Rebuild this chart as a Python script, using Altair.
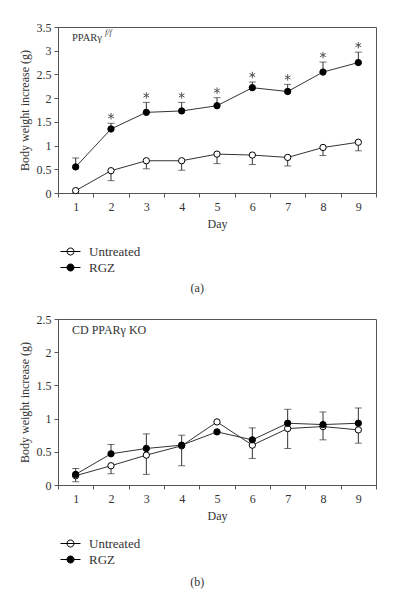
import altair as alt
import pandas as pd

days = [1, 2, 3, 4, 5, 6, 7, 8, 9]
series_names = ["Untreated", "RGZ"]

# Panel (a) PPARγ f/f
a_untreated = [0.05, 0.47, 0.68, 0.68, 0.82, 0.80, 0.75, 0.96, 1.07]
a_untreated_lo = [0.00, 0.26, 0.51, 0.48, 0.62, 0.60, 0.57, 0.79, 0.89]
a_untreated_hi = [0.05, 0.47, 0.68, 0.68, 0.82, 0.80, 0.75, 0.96, 1.07]
a_rgz = [0.55, 1.35, 1.70, 1.73, 1.84, 2.22, 2.14, 2.55, 2.75]
a_rgz_lo = [0.55, 1.35, 1.70, 1.73, 1.84, 2.22, 2.14, 2.55, 2.75]
a_rgz_hi = [0.74, 1.47, 1.91, 1.91, 2.01, 2.34, 2.29, 2.76, 2.97]
a_significant = [False, True, True, True, True, True, True, True, True]

# Panel (b) CD PPARγ KO
b_untreated = [0.14, 0.29, 0.45, 0.59, 0.95, 0.60, 0.85, 0.88, 0.83]
b_untreated_lo = [0.05, 0.17, 0.16, 0.29, 0.95, 0.40, 0.55, 0.68, 0.63]
b_untreated_hi = [0.14, 0.29, 0.77, 0.59, 0.95, 0.60, 0.85, 0.88, 0.83]
b_rgz = [0.16, 0.47, 0.55, 0.60, 0.80, 0.68, 0.93, 0.91, 0.93]
b_rgz_lo = [0.16, 0.47, 0.55, 0.60, 0.80, 0.68, 0.93, 0.91, 0.93]
b_rgz_hi = [0.25, 0.61, 0.55, 0.75, 0.80, 0.86, 1.14, 1.10, 1.16]

a_ticks = [0, 0.5, 1, 1.5, 2, 2.5, 3, 3.5]
b_ticks = [0, 0.5, 1, 1.5, 2, 2.5]

FONT = "Liberation Serif"
INK = "#333333"
SYMBOL = "M-2,0L2,0M-0.7,0A0.7,0.7,0,1,0,0.7,0A0.7,0.7,0,1,0,-0.7,0Z"
ASTERISK = "M0,-1L0,1M-0.87,-0.5L0.87,0.5M-0.87,0.5L0.87,-0.5"


def frames(u, ulo, uhi, r, rlo, rhi):
    rows, caps = [], []
    for name, v, lo, hi in [("Untreated", u, ulo, uhi), ("RGZ", r, rlo, rhi)]:
        for d, vv, l, h in zip(days, v, lo, hi):
            rows.append({"day": d, "series": name, "value": vv, "lo": l, "hi": h})
            if l < vv:
                caps.append({"day": d, "series": name, "cap": l})
            if h > vv:
                caps.append({"day": d, "series": name, "cap": h})
    return pd.DataFrame(rows), pd.DataFrame(caps)


def panel(df, caps, ymax, ticks, label_parts, label_size, sup_x, caption, cap_offset, stars=None):
    x = alt.X("day:O", scale=alt.Scale(type="band", paddingInner=0, paddingOuter=0),
              axis=alt.Axis(title="Day", labelAngle=0, tickBand="extent", tickSize=4,
                            labelPadding=4, titlePadding=6))
    yscale = alt.Scale(domain=[0, ymax], nice=False)
    yaxis = alt.Axis(title="Body weight increase (g)", values=ticks, format="~g",
                     labelOverlap=False, tickSize=4, labelPadding=3, titlePadding=5)

    def Y(field):
        return alt.Y(field, scale=yscale, axis=yaxis)

    base = alt.Chart(df)
    line = base.mark_line(color=INK, strokeWidth=1).encode(x=x, y=Y("value:Q"), detail="series:N")
    rule = base.mark_rule(color=INK, strokeWidth=1).encode(x=x, y=Y("lo:Q"), y2="hi:Q")
    cap = alt.Chart(caps).mark_tick(color=INK, orient="horizontal", size=7, thickness=1).encode(
        x=x, y=Y("cap:Q"))
    pts = base.mark_point(shape="circle", size=40, stroke="black", strokeWidth=1,
                          opacity=1, fillOpacity=1).encode(
        x=x, y=Y("value:Q"),
        fill=alt.Fill("series:N", scale=alt.Scale(domain=series_names, range=["white", "black"]),
                      legend=alt.Legend(title=None, orient="none", legendX=6, legendY=218,
                                        symbolType=SYMBOL, symbolSize=100,
                                        symbolStrokeColor="black", symbolStrokeWidth=1,
                                        labelFont=FONT, labelFontSize=13, labelColor=INK,
                                        labelOffset=12, rowPadding=2)))
    layers = [line, rule, cap, pts]
    if stars is not None:
        layers.append(alt.Chart(stars).mark_point(shape=ASTERISK, size=42, filled=False,
                                                  color="#555555", strokeWidth=1, opacity=1,
                                                  yOffset=-7).encode(x=x, y=Y("cap:Q")))
    main_text, sup_text = label_parts
    layers.append(alt.Chart(pd.DataFrame({"t": [main_text]})).mark_text(
        font=FONT, fontSize=label_size, color=INK, align="left", baseline="middle").encode(
        text="t:N", x=alt.value(14), y=alt.value(11)))
    if sup_text:
        layers.append(alt.Chart(pd.DataFrame({"t": [sup_text]})).mark_text(
            font=FONT, fontSize=8, fontStyle="italic", color=INK, align="left",
            baseline="middle").encode(text="t:N", x=alt.value(sup_x), y=alt.value(6)))
    return alt.layer(*layers).properties(
        width=318, height=166,
        title=alt.TitleParams(caption, orient="bottom", anchor="middle", frame="bounds",
                              font=FONT, fontSize=12, fontWeight="normal", color=INK,
                              offset=cap_offset))


dfa, capsa = frames(a_untreated, a_untreated_lo, a_untreated_hi, a_rgz, a_rgz_lo, a_rgz_hi)
stars_a = pd.DataFrame({"day": [d for d, s in zip(days, a_significant) if s],
                        "cap": [h for h, s in zip(a_rgz_hi, a_significant) if s]})
dfb, capsb = frames(b_untreated, b_untreated_lo, b_untreated_hi, b_rgz, b_rgz_lo, b_rgz_hi)

pa = panel(dfa, capsa, 3.5, a_ticks, ("PPARγ", "f/f"), 10.5, 47, "(a)", 8, stars_a)
pb = panel(dfb, capsb, 2.5, b_ticks, ("CD PPARγ KO", ""), 12, 0, "(b)", 10)

chart = alt.vconcat(pa, pb, spacing=126, bounds="flush").resolve_scale(
    fill="independent").resolve_legend(fill="independent").properties(
    padding={"left": 9, "top": 12, "right": 5, "bottom": 0}
).configure_view(stroke="#555555", strokeWidth=1).configure_axis(
    labelFont=FONT, labelFontSize=12, labelColor=INK, titleFont=FONT, titleFontSize=12,
    titleFontWeight="normal", titleColor=INK, domainColor="#555555", tickColor="#555555",
    grid=False)

chart.save("out.html", embed_options={"renderer": "svg", "actions": False})
